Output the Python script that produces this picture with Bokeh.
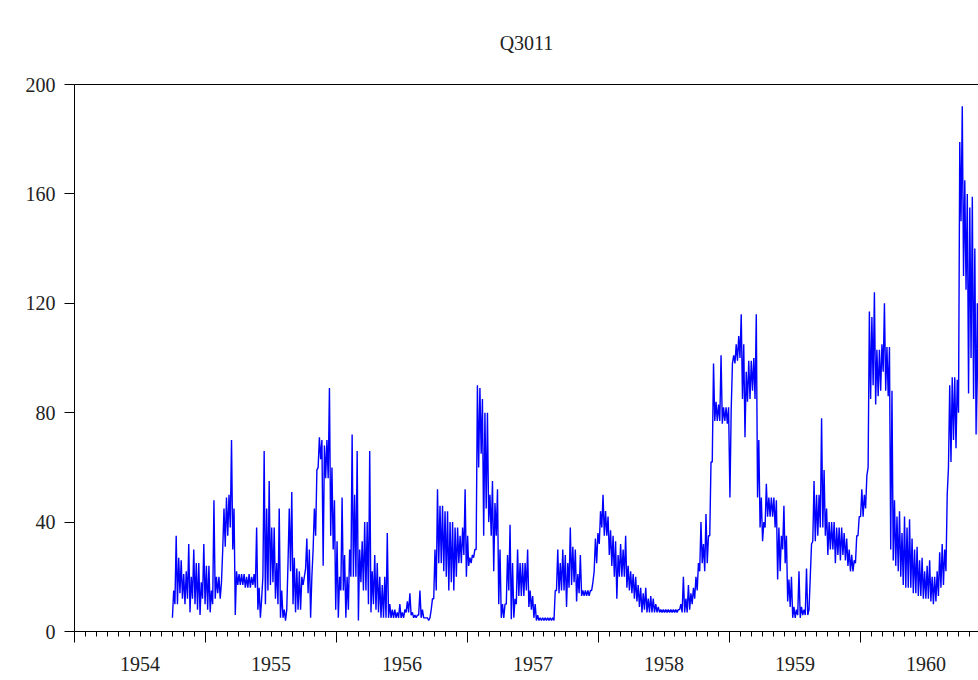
import pandas as pd
from bokeh.plotting import figure
from bokeh.models import LinearAxis, FixedTicker, Range1d, ColumnDataSource
from bokeh.embed import file_html
from bokeh.resources import INLINE

TITLE = "Q3011"
START = "1954-10-01"          # first weekly reading
STEP = "84h"                  # low and high reading of each week, half a week apart

# (weekly low, weekly high)
w1954 = [(5, 15), (10, 35), (10, 27), (14, 26), (12, 21), (10, 22), (12, 32), (7, 20), (12, 30),
         (10, 25), (8, 25), (6, 18), (12, 32)]
w1955 = [(10, 24), (8, 24), (7, 15), (10, 48), (12, 20), (14, 20), (12, 18), (30, 45), (31, 49),
         (35, 50), (38, 70), (30, 45), (6, 22), (17, 21), (17, 21), (17, 21), (16, 20), (16, 21),
         (16, 20), (17, 21), (16, 38), (8, 16), (5, 12), (20, 66), (10, 45), (15, 55), (17, 38),
         (18, 38), (12, 25), (10, 45), (5, 15), (5, 8), (4, 8), (25, 45), (22, 51), (10, 27),
         (7, 23), (8, 22), (8, 20), (17, 20), (23, 34), (14, 30), (5, 20), (30, 45), (35, 59),
         (60, 71), (63, 70), (24, 68), (56, 70), (56, 89), (35, 60), (30, 48)]
w1956 = [(8, 33), (5, 20), (15, 49), (15, 28), (5, 20), (8, 30), (20, 72), (20, 50), (20, 66),
         (4, 30), (18, 33), (15, 40), (15, 40), (10, 66), (7, 22), (10, 28), (8, 25), (7, 20),
         (5, 17), (5, 20), (5, 36), (5, 10), (5, 8), (5, 8), (5, 7), (5, 10), (5, 7), (5, 8),
         (7, 11), (7, 14), (6, 7), (5, 6), (5, 6), (6, 15), (5, 8), (5, 5), (5, 5), (4, 5),
         (8, 12), (12, 30), (15, 52), (25, 46), (25, 46), (22, 44), (20, 44), (15, 40), (18, 40),
         (15, 38), (20, 38), (25, 35), (25, 38), (28, 52)]
w1957 = [(20, 35), (24, 27), (25, 28), (27, 30), (30, 90), (60, 89), (65, 85), (35, 80), (45, 80),
         (40, 50), (35, 55), (22, 47), (35, 52), (10, 30), (5, 10), (5, 10), (10, 28), (15, 39),
         (4.5, 25), (5, 12), (10, 30), (13, 25), (13, 25), (13, 25), (15, 30), (9, 15), (8, 13),
         (5, 10), (4, 6), (4, 5), (4, 5), (4, 5), (4, 5), (4, 5), (4, 5), (4, 15), (15, 30),
         (14, 25), (15, 30), (15, 28), (9, 25), (16, 38), (17, 31), (18, 30), (11, 21), (14, 28),
         (13, 15), (13, 15), (13, 15), (13, 15), (15, 18), (22, 34)]
w1958 = [(25, 36), (32, 44), (38, 50), (35, 44), (35, 42), (28, 37), (24, 35), (20, 33), (12, 28),
         (20, 32), (20, 30), (20, 35), (16, 24), (15, 22), (14, 21), (12, 20), (11, 17), (9, 16),
         (7, 14), (8, 16), (7, 12), (7, 13), (7, 12), (7, 10), (7, 9), (7, 8), (7, 8), (7, 8),
         (7, 8), (7, 8), (7, 8), (7, 8), (7, 8), (8, 10), (7, 20), (7, 12), (7, 17), (8, 14),
         (10, 16), (12, 20), (15, 25), (22, 40), (25, 32), (22, 43), (25, 35), (35, 62), (62, 98),
         (77, 84), (77, 83), (77, 101), (76, 82), (77, 82)]
w1959 = [(76, 82), (49, 81), (98, 101), (98, 105), (99, 108), (100, 116), (85, 105), (71, 95),
         (84, 99), (85, 99), (88, 100), (85, 116), (49, 70), (38, 49), (33, 40), (38, 54), (42, 49),
         (42, 49), (42, 49), (38, 48), (19, 38), (22, 35), (30, 46), (25, 35), (11, 19), (9, 20),
         (5, 9), (5, 8), (6, 22), (5, 9), (6, 8), (6, 23), (6, 8), (20, 32), (33, 55), (33, 50),
         (35, 50), (38, 78), (38, 59), (35, 45), (28, 40), (30, 40), (30, 40), (25, 38), (28, 38),
         (26, 38), (28, 36), (26, 34), (24, 30), (22, 28), (22, 26), (25, 35)]
w1960 = [(35, 42), (42, 52), (42, 50), (45, 57), (60, 117), (85, 115), (90, 124), (83, 103),
         (86, 103), (88, 105), (95, 120), (88, 104), (86, 104), (30, 88), (26, 48), (24, 42),
         (22, 44), (20, 36), (17, 42), (16, 38), (16, 41), (16, 34), (14, 30), (14, 31), (13, 26),
         (13, 27), (12, 22), (12, 24), (12, 26), (11, 20), (10, 20), (11, 22), (13, 29), (16, 32),
         (17, 30), (22, 50), (60, 90), (62, 93), (70, 93), (67, 92), (80, 179), (150, 192),
         (130, 165), (125, 160), (87, 155), (100, 159), (85, 140), (72, 120), (72, 80)]

years = [1954, 1955, 1956, 1957, 1958, 1959, 1960, 1961]
year_labels = ["1954", "1955", "1956", "1957", "1958", "1959", "1960"]
y_ticks = [0, 40, 80, 120, 160, 200]

weeks = w1954 + w1955 + w1956 + w1957 + w1958 + w1959 + w1960
q = [v for lo_hi in weeks for v in lo_hi]
dates = pd.date_range(START, periods=len(q), freq=STEP)
t = list(dates.year + (dates.dayofyear - 1 + dates.hour / 24) / 365.25)
src = ColumnDataSource(data=dict(t=t, q=q))

SERIF = "Liberation Serif"
TXT = "#222222"

p = figure(width=978, height=680, output_backend="svg", toolbar_location=None,
           x_range=Range1d(1954.0, 1960.9), y_range=Range1d(0, 200),
           min_border_left=74, min_border_right=0, min_border_top=84, min_border_bottom=49)
p.outline_line_color = None
p.xgrid.visible = False
p.ygrid.visible = False
p.background_fill_color = "white"
p.border_fill_color = "white"

p.title.text = TITLE
p.title.align = "center"
p.title.vertical_align = "top"
p.title.text_font = SERIF
p.title.text_font_size = "20px"
p.title.text_font_style = "normal"
p.title.text_color = TXT
p.title.standoff = 58

# y axis
ya = p.yaxis[0]
ya.ticker = FixedTicker(ticks=y_ticks)
ya.major_tick_out = 10
ya.major_tick_in = 0
ya.minor_tick_out = 0
ya.minor_tick_in = 0
ya.axis_line_color = "black"
ya.major_tick_line_color = "black"
ya.major_label_standoff = 9
ya.major_label_text_font = SERIF
ya.major_label_text_font_size = "20px"
ya.major_label_text_color = TXT

# x axis: year boundary ticks + monthly minor ticks, no labels
months = [y + m / 12 for y in years[:-1] for m in range(12)] + [years[-1]]
xa = p.xaxis[0]
xa.ticker = FixedTicker(ticks=years, minor_ticks=months)
xa.major_tick_out = 11
xa.major_tick_in = 0
xa.minor_tick_out = 5
xa.minor_tick_in = 0
xa.axis_line_color = "black"
xa.major_tick_line_color = "black"
xa.minor_tick_line_color = "black"
xa.major_label_overrides = {y: "" for y in years}
xa.major_label_text_font_size = "1px"
xa.major_label_standoff = 0

# x labels centred on each year
mid = [y + 0.5 for y in years[:-1]]
xl = LinearAxis(ticker=FixedTicker(ticks=mid, minor_ticks=[]),
                major_label_overrides={m: lab for m, lab in zip(mid, year_labels)},
                axis_line_color=None, major_tick_line_color=None, minor_tick_line_color=None,
                major_tick_out=0, major_tick_in=0,
                major_label_standoff=14, major_label_text_font=SERIF,
                major_label_text_font_size="20px", major_label_text_color=TXT)
p.add_layout(xl, "below")

# top frame line
top = LinearAxis(ticker=FixedTicker(ticks=[]), axis_line_color="black",
                 major_tick_out=0, major_tick_in=0, minor_tick_out=0, minor_tick_in=0,
                 major_label_text_font_size="0px", major_label_standoff=0)
p.add_layout(top, "above")

p.line("t", "q", source=src, line_color="#0000ff", line_width=1.4)

open("out.html", "w").write(file_html(p, INLINE))
